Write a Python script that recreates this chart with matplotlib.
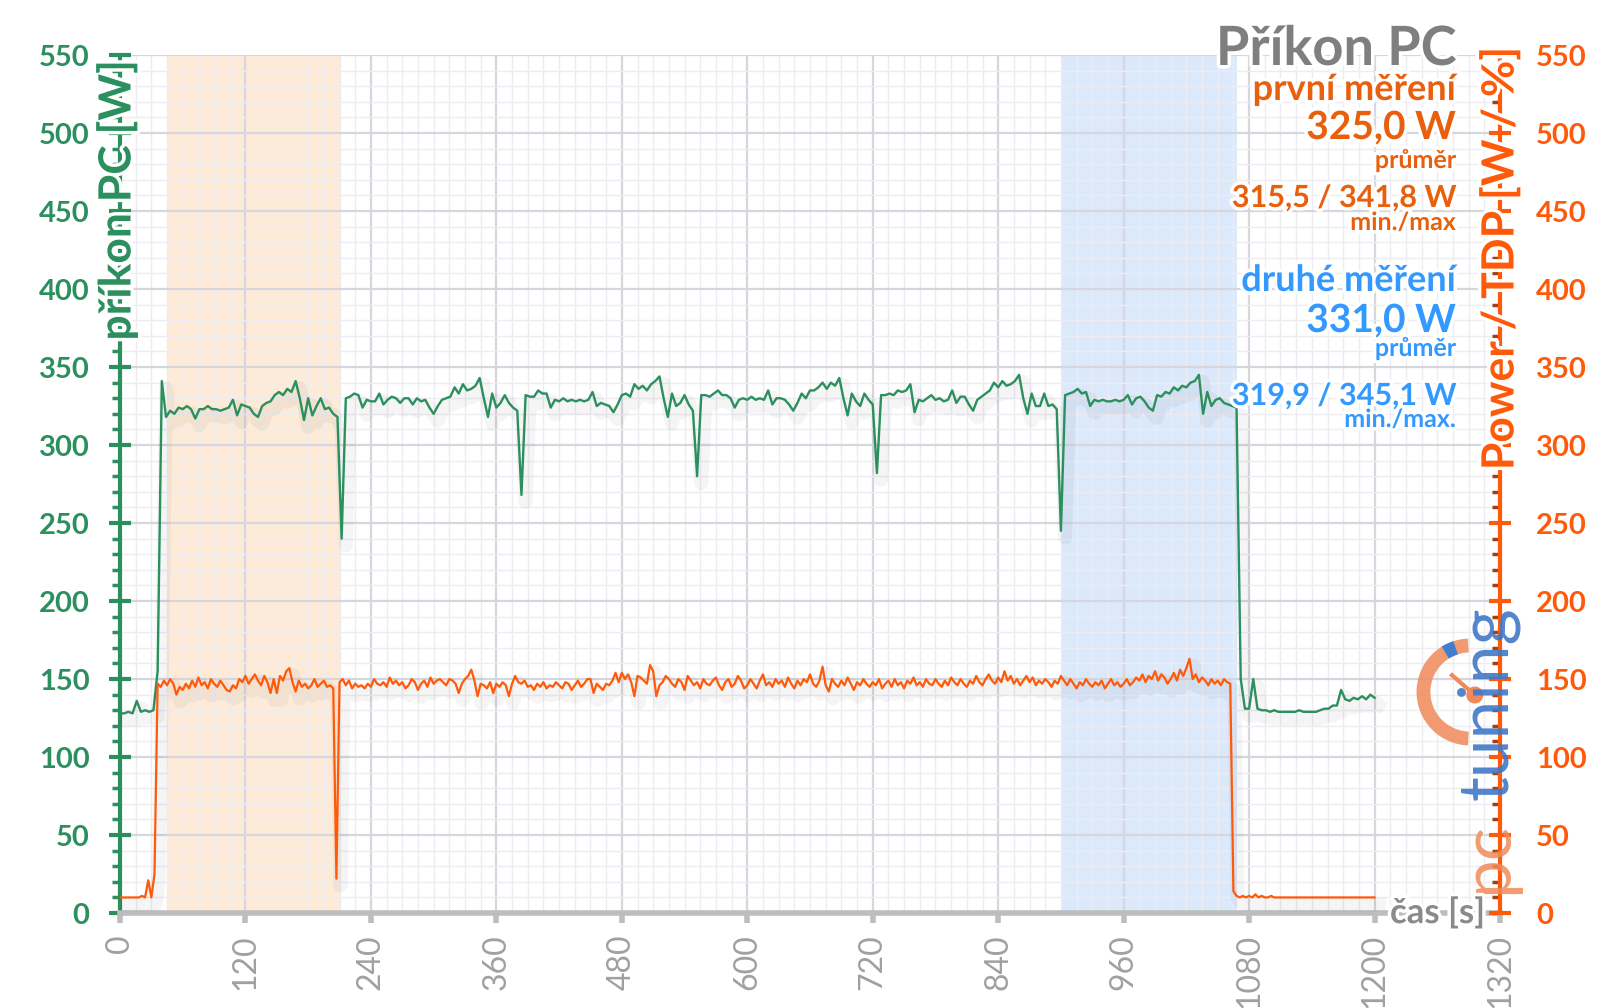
import numpy as np
import matplotlib
matplotlib.use("Agg")
import matplotlib.pyplot as plt
import matplotlib.patheffects as pe
from matplotlib.patches import Arc, Wedge

plt.rcParams['font.family'] = ['Lato', 'DejaVu Sans']

# příkon celého PC, vzorek každé 4 s
pc_step = 4
pc_power = [
    128, 128, 129, 128, 136, 129, 130, 129, 130, 155,   # 0
    341, 318, 322, 320, 324, 323, 325, 323, 317, 323,   # 40
    323, 325, 323, 323, 322, 323, 324, 329, 319, 326,   # 80
    325, 324, 320, 318, 325, 327, 328, 332, 334, 332,   # 120
    336, 334, 341, 330, 316, 330, 319, 325, 330, 323,   # 160
    324, 320, 318, 240, 330, 331, 333, 332, 324, 329,   # 200
    328, 328, 333, 326, 329, 331, 330, 327, 330, 330,   # 240
    326, 330, 328, 329, 324, 320, 325, 329, 330, 331,   # 280
    337, 333, 339, 335, 336, 338, 343, 330, 318, 333,   # 320
    324, 327, 332, 327, 324, 322, 268, 332, 331, 331,   # 360
    335, 333, 333, 324, 329, 328, 330, 328, 329, 328,   # 400
    329, 328, 329, 334, 325, 327, 326, 325, 321, 326,   # 440
    332, 333, 331, 339, 336, 338, 335, 339, 341, 344,   # 480
    330, 318, 333, 325, 327, 332, 326, 322, 280, 332,   # 520
    332, 331, 333, 335, 332, 332, 330, 324, 329, 330,   # 560
    329, 331, 329, 330, 329, 335, 326, 330, 330, 329,   # 600
    326, 322, 327, 333, 330, 335, 335, 337, 340, 336,   # 640
    340, 338, 343, 330, 319, 333, 328, 325, 333, 329,   # 680
    326, 282, 332, 332, 333, 332, 335, 334, 335, 339,   # 720
    321, 329, 328, 330, 332, 329, 330, 328, 329, 335,   # 760
    327, 331, 331, 326, 322, 329, 331, 333, 335, 340,   # 800
    337, 341, 338, 339, 341, 345, 330, 320, 333, 325,   # 840
    325, 333, 325, 326, 323, 245, 332, 333, 334, 336,   # 880
    333, 334, 325, 329, 328, 329, 328, 328, 329, 328,   # 920
    329, 332, 326, 330, 331, 328, 324, 322, 332, 331,   # 960
    334, 333, 337, 335, 338, 337, 340, 341, 345, 320,   # 1000
    334, 325, 329, 330, 327, 326, 325, 324, 150, 131,   # 1040
    131, 150, 131, 130, 130, 129, 130, 129, 129, 129,   # 1080
    129, 129, 130, 129, 129, 129, 129, 130, 131, 131,   # 1120
    133, 133, 143, 137, 136, 138, 137, 139, 137, 140,   # 1160
    138,                                                # 1200
]

# Power / TDP procesoru, vzorek každé 3 s
cpu_step = 3
cpu_power = [
    10, 10, 10, 10, 10, 10, 10, 11, 10, 21,             # 0
    10, 25, 147, 145, 149, 146, 150, 147, 140, 145,     # 30
    143, 147, 144, 149, 145, 151, 146, 148, 144, 150,   # 60
    147, 145, 149, 146, 143, 142, 146, 144, 150, 148,   # 90
    152, 147, 150, 153, 149, 146, 152, 148, 141, 150,   # 120
    141, 152, 149, 155, 157, 148, 142, 149, 145, 147,   # 150
    144, 146, 150, 145, 147, 149, 145, 146, 144, 22,    # 180
    148, 150, 146, 149, 144, 147, 145, 146, 144, 147,   # 210
    145, 150, 147, 146, 148, 145, 151, 147, 149, 146,   # 240
    148, 144, 146, 150, 148, 143, 147, 149, 145, 151,   # 270
    147, 149, 150, 148, 146, 150, 149, 147, 141, 147,   # 300
    150, 152, 156, 149, 139, 147, 146, 144, 148, 141,   # 330
    147, 145, 148, 146, 139, 147, 152, 148, 147, 149,   # 360
    145, 146, 143, 147, 145, 148, 144, 146, 145, 148,   # 390
    146, 144, 148, 147, 143, 146, 149, 145, 147, 150,   # 420
    150, 141, 147, 145, 143, 147, 146, 149, 154, 148,   # 450
    154, 150, 153, 148, 139, 152, 151, 149, 147, 159,   # 480
    155, 139, 146, 148, 152, 150, 147, 145, 150, 148,   # 510
    143, 152, 149, 146, 148, 144, 150, 147, 146, 149,   # 540
    151, 146, 143, 148, 150, 145, 147, 152, 149, 144,   # 570
    146, 150, 147, 144, 149, 153, 146, 148, 145, 150,   # 600
    147, 149, 145, 151, 147, 144, 149, 146, 150, 148,   # 630
    153, 147, 145, 149, 158, 146, 142, 150, 147, 145,   # 660
    149, 146, 151, 147, 143, 148, 146, 150, 147, 145,   # 690
    148, 146, 150, 144, 147, 149, 145, 150, 146, 148,   # 720
    144, 149, 147, 151, 146, 148, 145, 150, 147, 146,   # 750
    150, 147, 145, 149, 146, 151, 148, 146, 150, 147,   # 780
    145, 149, 147, 152, 148, 146, 150, 153, 149, 147,   # 810
    151, 148, 155, 149, 152, 147, 150, 146, 149, 152,   # 840
    148, 151, 146, 149, 147, 150, 148, 145, 149, 147,   # 870
    152, 149, 146, 150, 147, 144, 148, 146, 150, 147,   # 900
    145, 148, 146, 149, 144, 147, 150, 146, 148, 145,   # 930
    147, 150, 146, 148, 151, 149, 153, 148, 152, 150,   # 960
    155, 149, 153, 151, 147, 150, 154, 149, 156, 152,   # 990
    157, 163, 150, 153, 148, 151, 149, 146, 150, 147,   # 1020
    149, 146, 150, 148, 147, 14, 11, 10, 11, 10,        # 1050
    11, 10, 12, 10, 11, 10, 10, 11, 10, 10,             # 1080
    10, 10, 10, 10, 10, 10, 10, 10, 10, 10,             # 1110
    10, 10, 10, 10, 10, 10, 10, 10, 10, 10,             # 1140
    10, 10, 10, 10, 10, 10, 10, 10, 10, 10,             # 1170
    10,                                                 # 1200
]

first_span = (45, 210)
second_span = (901, 1068)

green = '#2b8f5e'
orange = '#ff5a0a'
orange_txt = '#e8600e'
blue_txt = '#3399ff'
gray = '#8a8a8a'

fig = plt.figure(figsize=(16, 10.08), dpi=100)
ax = fig.add_axes([0.075, 0.0942, 0.8625, 0.8512])
ax.set_xlim(0, 1320)
ax.set_ylim(0, 550)

ax.axvspan(*first_span, color='#fdebd8', zorder=0.1, lw=0)
ax.axvspan(*second_span, color='#dbe9fb', zorder=0.1, lw=0)

ax.set_xticks(range(0, 1321, 120))
ax.set_xticks(range(0, 1321, 15), minor=True)
ax.set_yticks(range(0, 551, 50))
ax.set_yticks(range(0, 551, 10), minor=True)
ax.set_axisbelow(True)
ax.grid(which='major', color='#d6d6de', lw=1.6, zorder=0.5)
ax.grid(which='minor', color='#ececf2', lw=1.0, zorder=0.4)

shadow = [pe.SimpleLineShadow(offset=(3, -5), shadow_color='k', alpha=0.04, linewidth=10), pe.Normal()]
t_pc = np.arange(len(pc_power)) * pc_step
t_cpu = np.arange(len(cpu_power)) * cpu_step
ax.plot(t_pc, pc_power, color=green, lw=1.7, zorder=3, path_effects=shadow)
ax.plot(t_cpu, cpu_power, color=orange, lw=1.6, zorder=3, path_effects=shadow)

for s in ['top', 'right']:
    ax.spines[s].set_visible(False)
ax.spines['left'].set_color(green)
ax.spines['left'].set_linewidth(3)
ax.spines['bottom'].set_color('#bdbdbd')
ax.spines['bottom'].set_linewidth(4)

ax.tick_params(axis='x', which='major', direction='out', length=7, width=4, color='#bdbdbd',
               labelrotation=90, labelsize=23, labelcolor='#a0a0a0', pad=8)
ax.tick_params(axis='x', which='minor', length=0)
ax.tick_params(axis='y', which='major', direction='inout', length=16, width=3, color=green,
               labelsize=21, labelcolor=green, pad=14)
ax.tick_params(axis='y', which='minor', direction='out', length=6, width=2.5, color=green)
plt.setp(ax.get_yticklabels(), fontweight='bold')

ax2 = ax.twinx()
ax2.set_ylim(0, 550)
ax2.set_yticks(range(0, 551, 50))
ax2.set_yticks(range(0, 551, 10), minor=True)
for s in ['top', 'left', 'bottom']:
    ax2.spines[s].set_visible(False)
ax2.spines['right'].set_color(orange)
ax2.spines['right'].set_linewidth(3)
ax2.tick_params(axis='y', which='major', direction='inout', length=16, width=3, color=orange,
                labelsize=21, labelcolor=orange, pad=18)
ax2.tick_params(axis='y', which='minor', direction='in', length=6, width=2.5, color='#a04010')
plt.setp(ax2.get_yticklabels(), fontweight='bold')

# logo pcTuning
lax = fig.add_axes([1410 / 1600, 1 - 752 / 1008, 120 / 1600, 120 / 1008])
lax.set_xlim(-1, 1)
lax.set_ylim(-1, 1)
lax.set_aspect('equal')
lax.axis('off')
lax.add_patch(Arc((0, 0), 1.55, 1.55, theta1=92, theta2=268, color='#f08a5a', lw=10, alpha=0.85))
lax.add_patch(Arc((0, 0), 1.55, 1.55, theta1=108, theta2=122, color='#3f7fd0', lw=10))
lax.plot([-0.3, 0.08], [0.28, -0.05], color='#f08a5a', lw=3)
lax.add_patch(Wedge((0.08, -0.05), 0.13, 0, 360, color='#f08a5a'))
fig.text(1488 / 1600, 1 - 606 / 1008, 'tuning', rotation=90, ha='center', va='top',
         fontsize=50, color='#3f78c8', alpha=0.9, zorder=0)
fig.text(1488 / 1600, 1 - 822 / 1008, 'pc', rotation=90, ha='center', va='top',
         fontsize=50, color='#f08a5a', alpha=0.85, zorder=0)

halo = [pe.withStroke(linewidth=5, foreground='white')]

fig.text(117 / 1600, 1 - 200 / 1008, 'příkon PC [W]', rotation=90, ha='center', va='center',
         fontsize=32, fontweight='bold', color=green, path_effects=halo)
fig.text(1500 / 1600, 1 - 258 / 1008, 'Power / TDP [W / %]', rotation=90, ha='center', va='center',
         fontsize=32, fontweight='bold', color=orange, path_effects=halo)
fig.text(1390 / 1600, 1 - 913 / 1008, 'čas [s]', ha='left', va='center',
         fontsize=25, fontweight='bold', color=gray, path_effects=halo)

xr = 1456 / 1600
notes = [
    ('Příkon PC', 65, 39, '#7f7f7f'),
    ('první měření', 100, 26, orange_txt),
    ('325,0 W', 139, 28, orange_txt),
    ('průměr', 168, 18, orange_txt),
    ('315,5 / 341,8 W', 207, 22, orange_txt),
    ('min./max', 230, 18, orange_txt),
    ('druhé měření', 291, 26, blue_txt),
    ('331,0 W', 332, 28, blue_txt),
    ('průměr', 356, 18, blue_txt),
    ('319,9 / 345,1 W', 405, 22, blue_txt),
    ('min./max.', 427, 18, blue_txt),
]
for txt, base, size, col in notes:
    fig.text(xr, 1 - base / 1008, txt, ha='right', va='baseline', fontsize=size,
             fontweight='bold', color=col, path_effects=halo, zorder=5)

fig.savefig('out.png', dpi=100)
